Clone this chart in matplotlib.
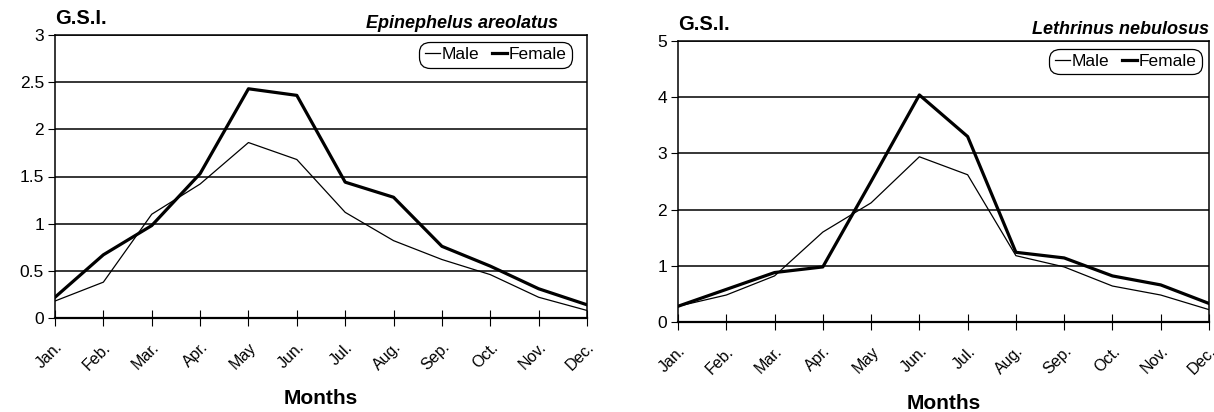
import matplotlib
matplotlib.use("Agg")
import matplotlib.pyplot as plt

plt.rcParams['font.family'] = ['Liberation Sans', 'DejaVu Sans']

months = ["Jan.", "Feb.", "Mar.", "Apr.", "May", "Jun.", "Jul.", "Aug.", "Sep.", "Oct.", "Nov.", "Dec."]

ea_male = [0.18, 0.38, 1.10, 1.42, 1.86, 1.68, 1.12, 0.82, 0.62, 0.46, 0.22, 0.08]
ea_female = [0.22, 0.67, 0.98, 1.53, 2.43, 2.36, 1.44, 1.28, 0.76, 0.55, 0.31, 0.14]

ln_male = [0.28, 0.48, 0.82, 1.60, 2.12, 2.94, 2.62, 1.18, 0.98, 0.64, 0.48, 0.22]
ln_female = [0.28, 0.58, 0.88, 0.98, 2.50, 4.04, 3.30, 1.24, 1.14, 0.82, 0.66, 0.33]

ea_yticks = [0, 0.5, 1, 1.5, 2, 2.5, 3]
ea_ylabels = ["0", "0.5", "1", "1.5", "2", "2.5", "3"]
ln_yticks = [0, 1, 2, 3, 4, 5]
ln_ylabels = ["0", "1", "2", "3", "4", "5"]

fig = plt.figure(figsize=(12.14, 4.12), dpi=100)
W, H = 1214, 412


def make_ax(x0, x1, ytop, ybot):
    return fig.add_axes([x0 / W, 1 - ybot / H, (x1 - x0) / W, (ybot - ytop) / H])


def draw(ax, male, female, yticks, ylabels, species, legend_bbox, xlab_y):
    x = list(range(len(months)))
    ax.set_xlim(0, len(months) - 1)
    ax.set_ylim(yticks[0], yticks[-1])
    for yt in yticks[1:]:
        ax.axhline(yt, color="black", lw=1.1, zorder=1)
    ax.plot(x, male, color="black", lw=0.9, label="Male", zorder=3)
    ax.plot(x, female, color="black", lw=2.3, label="Female", zorder=3)
    ax.set_yticks(yticks)
    ax.set_yticklabels(ylabels, fontsize=12.5)
    ax.set_xticks(x)
    ax.set_xticklabels(months, rotation=45, ha="right", va="top", fontsize=11.5,
                       rotation_mode="anchor")
    ax.tick_params(axis="x", direction="inout", length=11, width=0.8, pad=10)
    ax.tick_params(axis="y", direction="out", length=5, width=0.8, pad=3)
    for s in ax.spines.values():
        s.set_linewidth(1.1)
        s.set_color("black")
    ax.spines["bottom"].set_linewidth(1.6)
    ax.set_xlabel("Months", fontsize=15, fontweight="bold")
    ax.xaxis.set_label_coords(0.5, xlab_y)
    ax.text(0.0, 1.025, "G.S.I.", transform=ax.transAxes, fontsize=14.5,
            fontweight="bold", ha="left", va="bottom")
    ax.text(species[1], 1.012, species[0], transform=ax.transAxes, fontsize=13,
            fontweight="bold", style="italic", ha="right", va="bottom")
    leg = ax.legend(loc="upper right", bbox_to_anchor=legend_bbox, ncol=2,
                    fontsize=12.5, frameon=True, fancybox=True, framealpha=1,
                    edgecolor="black", handlelength=0.9, handletextpad=0.1,
                    columnspacing=0.7, borderpad=0.3, borderaxespad=0.0)
    leg.get_frame().set_linewidth(0.9)
    leg.get_frame().set_boxstyle("round", pad=0.0, rounding_size=0.6)


ax1 = make_ax(55, 587, 35, 318)
draw(ax1, ea_male, ea_female, ea_yticks, ea_ylabels,
     ("Epinephelus areolatus", 0.945), (0.972, 0.975), -0.25)

ax2 = make_ax(678, 1209, 41, 322)
draw(ax2, ln_male, ln_female, ln_yticks, ln_ylabels,
     ("Lethrinus nebulosus", 1.0), (0.987, 0.972), -0.255)

fig.savefig("out.png", dpi=100)
